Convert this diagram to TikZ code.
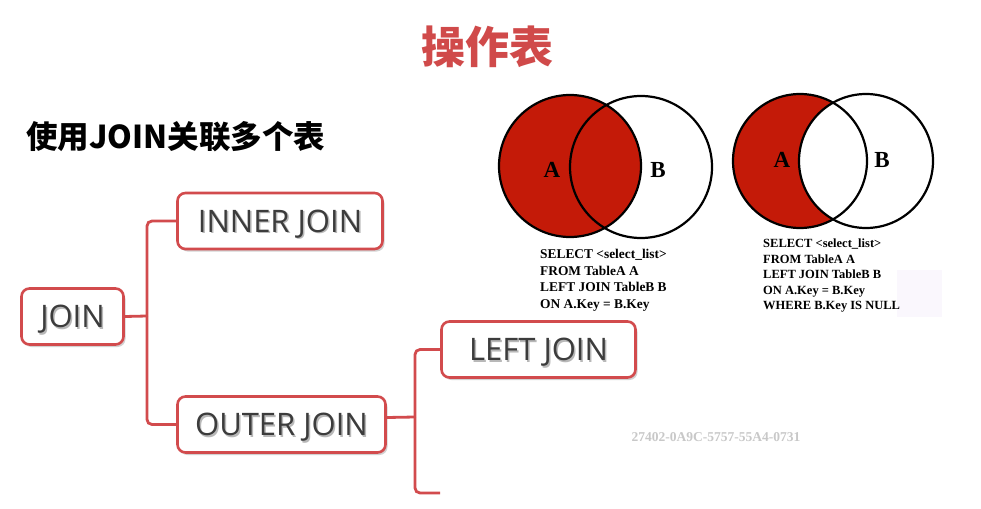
\documentclass[tikz,border=0pt]{standalone}
\usepackage{fontspec}
\setmainfont{Liberation Serif}
\newfontfamily\cjk{Noto Sans CJK SC}
\newfontfamily\boxfont{Open Sans}
\usetikzlibrary{shadows}
\definecolor{tred}{HTML}{D04A4A}
\definecolor{bred}{HTML}{D24B4D}
\definecolor{vred}{HTML}{C41A08}
\definecolor{btxt}{HTML}{3C3C3C}
\definecolor{lav}{HTML}{FAF7FD}
\definecolor{wmark}{HTML}{C8C8C8}
\newcommand\shtxt[1]{\makebox[0pt][l]{\hspace{1.5pt}\raisebox{-1.5pt}{\textcolor{black!28}{#1}}}#1}
\tikzset{
  box/.style={draw=bred, line width=2.6pt, rounded corners=8pt, fill=white,
    drop shadow={shadow xshift=2pt, shadow yshift=-2.5pt, opacity=0.35, fill=black!50},
    font=\boxfont\fontsize{31}{31}\selectfont, text=btxt, inner sep=0pt,
    text height=22pt, text depth=0pt, minimum height=56pt},
  conn/.style={draw=bred, line width=2.8pt, rounded corners=5pt},
  venn/.style={draw=black, line width=2.2pt},
  vlabel/.style={font=\bfseries\fontsize{23}{23}\selectfont},
  sqlA/.style={font=\bfseries\fontsize{13.4}{16.5}\selectfont, align=left, anchor=north west, inner sep=0pt},
  sqlB/.style={font=\bfseries\fontsize{12.5}{15.5}\selectfont, align=left, anchor=north west, inner sep=0pt}
}
\begin{document}
\begin{tikzpicture}[x=1pt,y=-1pt]
\fill[white] (0,0) rectangle (981,508);
\useasboundingbox (0,0) rectangle (981,508);

% titles
\node[font=\cjk\bfseries\fontsize{44}{44}\selectfont, text=tred] (title) at (487,47) {操作表};
\node[font=\cjk\bfseries\fontsize{31.5}{31.5}\selectfont, text=black, anchor=west, inner sep=0pt] (sub) at (26,137) {使用JOIN关联多个表};

% mind map boxes
\node[box, minimum width=102pt] (join) at (72.5,316.5) {\shtxt{JOIN}};
\node[box, minimum width=205pt] (inner) at (280,221) {\shtxt{INNER JOIN}};
\node[box, minimum width=208pt] (outer) at (281.5,424.5) {\shtxt{OUTER JOIN}};
\node[box, minimum width=194pt] (left) at (538.5,349.5) {\shtxt{LEFT JOIN}};

% connectors
\coordinate (b1) at (147,316);
\coordinate (b2) at (415,417);
\coordinate (lend) at (440,493);
\draw[conn] (join.east) -- (b1);
\draw[conn] (inner.west) -| (b1);
\draw[conn] (outer.west) -| (b1);
\draw[conn] ([yshift=7pt]outer.east) -- (b2);
\draw[conn] (left.west) -| (b2);
\draw[conn] (lend) -| (b2);

% Venn 1
\fill[vred] (570,166) circle[radius=71pt];
\draw[venn] (570,166) circle[radius=71pt];
\draw[venn] (641,167) circle[radius=71pt];
\node[vlabel] (a1) at (552,170) {A};
\node[vlabel] (bb1) at (658,170) {B};
\node[sqlA] (sql1) at (540,249) {SELECT <select\_list>\\FROM TableA A\\LEFT JOIN TableB B\\ON A.Key = B.Key};

% Venn 2
\fill[lav] (897,270) rectangle (942,317);
\fill[vred] (800,161) circle[radius=67pt];
\begin{scope}
  \clip (800,161) circle[radius=67pt];
  \fill[white] (866,161) circle[radius=67pt];
\end{scope}
\draw[venn] (800,161) circle[radius=67pt];
\draw[venn] (866,161) circle[radius=67pt];
\node[vlabel] (a2) at (782,160) {A};
\node[vlabel] (bb2) at (882,160) {B};
\node[sqlB] (sql2) at (763,239) {SELECT <select\_list>\\FROM TableA A\\LEFT JOIN TableB B\\ON A.Key = B.Key\\WHERE B.Key IS NULL};

% watermark
\node[font=\bfseries\fontsize{13.5}{13.5}\selectfont, text=wmark] (wm) at (716,437) {27402-0A9C-5757-55A4-0731};
\end{tikzpicture}
\end{document}
